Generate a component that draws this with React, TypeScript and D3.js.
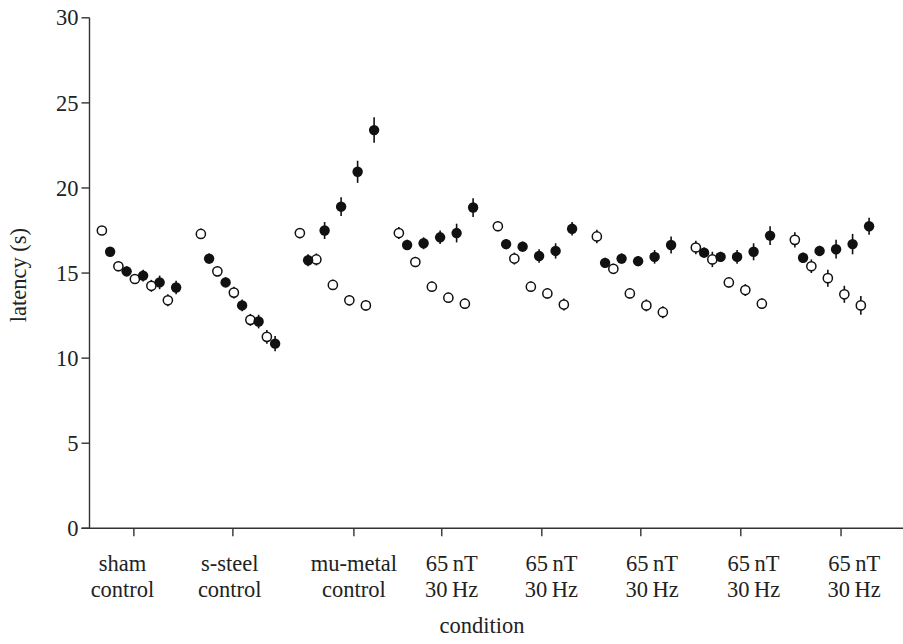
import React from "react";
import * as d3 from "d3";

// Group categories (two-line labels)
const groupLine1 = ["sham", "s-steel", "mu-metal", "65\u2009nT", "65\u2009nT", "65\u2009nT", "65\u2009nT", "65\u2009nT"];
const groupLine2 = ["control", "control", "control", "30\u2009Hz", "30\u2009Hz", "30\u2009Hz", "30\u2009Hz", "30\u2009Hz"];
// tick and label positions in slot units
const tickSlots = [3.88, 15.88, 30.55, 41.2, 53.33, 65.33, 77.45, 89.6];
const labelSlots = [2.5, 15.5, 30.55, 42.4, 54.5, 66.7, 79.0, 91.2];

// open-circle series (5 per group)
const openVals = [
  [17.5, 15.4, 14.65, 14.25, 13.4],
  [17.3, 15.1, 13.85, 12.25, 11.25],
  [17.35, 15.8, 14.3, 13.4, 13.1],
  [17.35, 15.65, 14.2, 13.55, 13.2],
  [17.75, 15.85, 14.2, 13.8, 13.15],
  [17.15, 15.25, 13.8, 13.1, 12.7],
  [16.5, 15.8, 14.45, 14.0, 13.2],
  [16.95, 15.4, 14.7, 13.75, 13.1],
];
const openErr = [
  [0.25, 0.3, 0.3, 0.35, 0.35],
  [0.3, 0.3, 0.35, 0.35, 0.4],
  [0.3, 0.35, 0.3, 0.3, 0.3],
  [0.35, 0.3, 0.3, 0.3, 0.3],
  [0.3, 0.35, 0.3, 0.3, 0.35],
  [0.4, 0.3, 0.3, 0.35, 0.35],
  [0.4, 0.45, 0.3, 0.35, 0.3],
  [0.45, 0.4, 0.5, 0.5, 0.55],
];
// filled-circle series
const filledVals = [
  [16.25, 15.1, 14.85, 14.45, 14.15],
  [15.85, 14.45, 13.1, 12.15, 10.85],
  [15.75, 17.5, 18.9, 20.95, 23.4],
  [16.65, 16.75, 17.1, 17.35, 18.85],
  [16.7, 16.55, 16.0, 16.3, 17.6],
  [15.6, 15.85, 15.7, 15.95, 16.65],
  [16.2, 15.95, 15.95, 16.25, 17.2],
  [15.9, 16.3, 16.4, 16.7, 17.75],
];
const filledErr = [
  [0.25, 0.3, 0.35, 0.4, 0.4],
  [0.3, 0.3, 0.35, 0.4, 0.45],
  [0.35, 0.5, 0.55, 0.65, 0.75],
  [0.3, 0.35, 0.4, 0.55, 0.55],
  [0.3, 0.3, 0.4, 0.45, 0.4],
  [0.3, 0.3, 0.3, 0.4, 0.5],
  [0.3, 0.3, 0.4, 0.5, 0.55],
  [0.3, 0.3, 0.55, 0.6, 0.5],
];
const yTicks = [0, 5, 10, 15, 20, 25, 30];

const W = 903;
const H = 644;
const FONT = "'Liberation Serif', 'Times New Roman', serif";

export default function App() {
  const x = d3.scaleLinear().domain([-1.5, 97.05]).range([89.5, 902.5]);
  const y = d3.scaleLinear().domain([0, 30]).range([528.3, 17.8]);
  const x0 = x(-1.5);
  const y0 = y(0);
  const r = 4.6;

  const pts: { sx: number; v: number; e: number; filled: boolean }[] = [];
  openVals.forEach((arr, g) =>
    arr.forEach((v, k) => pts.push({ sx: g * 12 + 2 * k, v, e: openErr[g][k], filled: false }))
  );
  filledVals.forEach((arr, g) =>
    arr.forEach((v, k) => pts.push({ sx: g * 12 + 2 * k + 1, v, e: filledErr[g][k], filled: true }))
  );

  return (
    <svg
      width={W}
      height={H}
      style={{ position: "absolute", left: 0, top: 0, background: "#fff" }}
      fontFamily={FONT}
    >
      <rect width={W} height={H} fill="#fff" />
      {/* axes */}
      <line x1={x0} x2={x0} y1={y(30)} y2={y0} stroke="#333" strokeWidth={1.4} />
      <line x1={x0 - 8} x2={W} y1={y0} y2={y0} stroke="#333" strokeWidth={1.4} />
      {yTicks.map((t) => (
        <g key={t}>
          <line x1={x0 - 8} x2={x0} y1={y(t)} y2={y(t)} stroke="#333" strokeWidth={1.4} />
          <text x={x0 - 11} y={y(t)} dy="0.34em" textAnchor="end" fontSize={22.5} fill="#222">
            {t}
          </text>
        </g>
      ))}
      {tickSlots.map((s, i) => (
        <line key={i} x1={x(s)} x2={x(s)} y1={y0} y2={y0 + 8} stroke="#333" strokeWidth={1.4} />
      ))}
      {labelSlots.map((s, i) => (
        <g key={i} fontSize={22.5} fill="#222" textAnchor="middle">
          <text x={x(s)} y={571}>{groupLine1[i]}</text>
          <text x={x(s)} y={597}>{groupLine2[i]}</text>
        </g>
      ))}
      <text x={482} y={633} textAnchor="middle" fontSize={22.5} fill="#222">
        condition
      </text>
      <text
        transform={`translate(26,${y(15) + 2}) rotate(-90)`}
        textAnchor="middle"
        fontSize={22.5}
        fill="#222"
      >
        latency (s)
      </text>
      {/* error bars */}
      {pts.map((p, i) => (
        <line
          key={"e" + i}
          x1={x(p.sx)}
          x2={x(p.sx)}
          y1={y(p.v - p.e)}
          y2={y(p.v + p.e)}
          stroke="#111"
          strokeWidth={1.6}
        />
      ))}
      {/* markers */}
      {pts.map((p, i) => (
        <circle
          key={"c" + i}
          cx={x(p.sx)}
          cy={y(p.v)}
          r={p.filled ? r + 0.6 : r}
          fill={p.filled ? "#111" : "#fff"}
          stroke="#111"
          strokeWidth={p.filled ? 0 : 1.5}
        />
      ))}
    </svg>
  );
}
